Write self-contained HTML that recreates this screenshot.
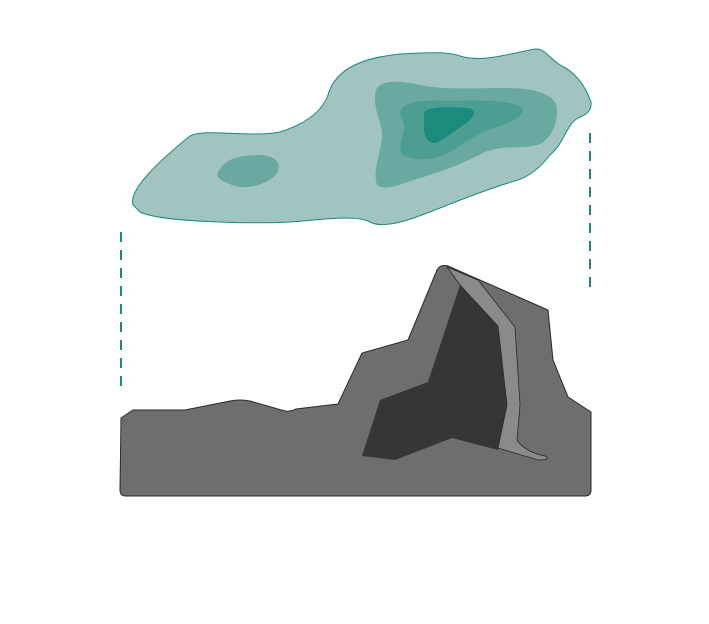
<!DOCTYPE html>
<html><head><meta charset="utf-8"><style>html,body{margin:0;padding:0;background:#fff;width:709px;height:624px;overflow:hidden}</style></head>
<body>
<svg width="709" height="624" viewBox="0 0 709 624">
<g>
<path fill="#a1c4c1" stroke="#1a8a7c" stroke-width="1"
 d="M133,205 C128,190 160,160 190,136 C205,128 250,138 280,132 C305,124 322,112 328,95 C335,70 360,58 400,54 C430,52 450,52 460,56 C480,62 500,56 530,50 C545,46 545,55 560,65 C575,72 585,85 591,102 C592,112 585,115 578,118 C566,125 565,142 550,155 C540,168 530,176 518,180 C490,188 460,200 440,208 C415,218 385,230 370,222 C355,214 320,220 290,222 C250,224 160,222 140,212 Z"/>
<path fill="#6aa9a0"
 d="M218,172 C225,160 235,155 260,155 C282,156 284,170 270,180 C258,186 245,190 232,185 C222,181 215,178 218,172 Z"/>
<path fill="#6aa9a0"
 d="M376,90 C380,80 400,80 420,85 C445,90 470,88 505,88 C530,88 550,92 556,104 C560,120 552,138 540,144 C525,150 505,144 485,152 C460,165 440,172 420,178 C400,184 385,192 377,185 C372,170 382,150 382,135 C382,120 372,110 376,90 Z"/>
<path fill="#4c9e93"
 d="M402,108 C410,100 430,100 450,101 C480,100 505,100 520,106 C528,112 518,120 500,126 C480,132 465,142 450,152 C435,160 415,162 403,155 C396,148 405,135 404,125 C403,118 398,113 402,108 Z"/>
<path fill="#1a8b7d"
 d="M424,112 C430,106 450,107 468,108 C478,110 474,118 465,124 C455,130 445,140 435,143 C425,143 423,132 424,122 Z"/>
</g>
<line x1="121" y1="232" x2="121" y2="392" stroke="#1a8a7c" stroke-width="2" stroke-dasharray="10,8"/>
<line x1="590" y1="133" x2="590" y2="293" stroke="#1a8a7c" stroke-width="2" stroke-dasharray="10,8"/>
<g>
<path fill="#6e6e6e" stroke="#2a2a2a" stroke-width="1"
 d="M121,418 L133,410 L185,410 L230,401 Q240,399 250,401 L285,411 Q290,412 296,409 L338,404 L362,353 L408,340 L437,270 Q440,264 448,266 L548,310 L553,360 L568,397 L591,412 L591,490 Q591,496 585,496 L126,496 Q120,496 120,490 Z"/>
<path fill="#363634"
 d="M362,456 L380,400 L428,382 L460,285 L498,326 L507,405 L498,450 L452,438 L395,460 Z"/>
<path fill="#8a8a89" stroke="#2a2a2a" stroke-width="0.8"
 d="M447,267 L478,280 L515,327 L520,405 L517,440 Q525,452 545,456 Q552,460 538,460 L498,448 L507,405 L498,326 L460,285 Z"/>
</g>
</svg>
</body></html>
